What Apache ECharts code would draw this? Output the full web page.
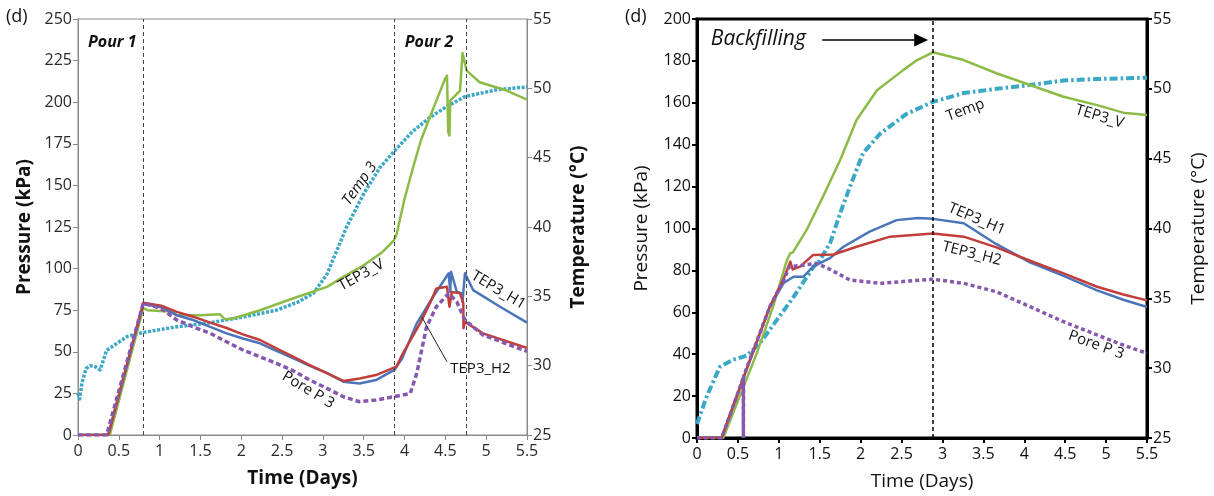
<!DOCTYPE html>
<html><head><meta charset="utf-8">
<script src="https://cdn.jsdelivr.net/npm/echarts@6/dist/echarts.min.js"></script>
<style>html,body{margin:0;padding:0;background:#fff}#c{width:1214px;height:496px}</style>
</head><body><div id="c"></div>
<script>
// ---------- DATA: left panel (d) Pour 1 / Pour 2 ----------
const xTicks = [0,0.5,1,1.5,2,2.5,3,3.5,4,4.5,5,5.5];
const leftPours = [0.8, 3.875, 4.75];
const leftTEP3V = [[0,0],[0.39,0],[0.8,76.2],[0.85,75],[1.17,74.1],[1.2,72],[1.5,72],[1.74,72.5],[1.8,69.5],[1.9,70],[2.23,75],[2.64,82.2],[3.05,89],[3.25,95],[3.5,102],[3.73,110],[3.87,117],[3.9,120],[4.0,142],[4.1,160],[4.2,177],[4.35,196],[4.5,214.5],[4.52,216],[4.535,182],[4.55,180],[4.56,201],[4.68,207],[4.71,229.6],[4.76,219],[4.92,212],[5.25,207],[5.5,201.5]];
const leftTEP3H1 = [[0,0],[0.37,0],[0.8,78.7],[1.02,76.7],[1.21,72],[1.41,69.1],[1.62,65],[1.82,61.1],[2.02,58],[2.23,55.1],[2.43,50.5],[2.64,46.1],[2.84,41.5],[3.05,37.2],[3.25,32],[3.45,31],[3.65,33],[3.875,39.1],[3.97,46],[4.15,67.1],[4.35,83.1],[4.54,97.2],[4.56,86.1],[4.57,98.1],[4.64,86.1],[4.70,85.1],[4.71,80.1],[4.74,97.2],[4.84,87.1],[5.17,77.1],[5.5,67.5]];
const leftTEP3H2 = [[0,0],[0.37,0],[0.8,79.5],[1.02,77.7],[1.21,74],[1.41,71.1],[1.62,67.5],[1.82,64.3],[2.02,60.5],[2.23,57.1],[2.43,52],[2.64,47],[2.84,42],[3.05,37.2],[3.25,32.5],[3.45,34],[3.65,36],[3.9,41.1],[3.98,49.1],[4.19,67.1],[4.31,79.1],[4.39,88.1],[4.52,89.1],[4.55,77.1],[4.58,86],[4.68,85.1],[4.72,79.1],[4.722,64.1],[4.74,68],[4.96,61.1],[5.5,52.3]];
const leftPoreP3 = [[0,0],[0.35,0],[0.8,79.3],[1.02,76],[1.21,69.1],[1.41,65],[1.62,61.1],[1.82,56],[2.02,51.1],[2.23,47],[2.43,43.1],[2.64,38.5],[2.84,33],[3.05,28],[3.25,23],[3.45,20],[3.65,21],[3.87,23],[4.07,25],[4.15,37.1],[4.27,65.1],[4.39,77.1],[4.54,85.1],[4.64,80.1],[4.74,69.1],[4.96,60.1],[5.5,50.3]];
const leftTemp3 = [[0,28.0],[0.02,27.6],[0.05,28.8],[0.1,29.8],[0.15,30.0],[0.22,29.9],[0.27,29.7],[0.3,30.2],[0.35,31.1],[0.6,32.1],[0.8,32.4],[1.21,32.8],[1.62,33.1],[2.02,33.5],[2.43,34.0],[2.7,34.6],[2.88,35.2],[3.05,36.6],[3.29,40.0],[3.5,42.4],[3.7,44.3],[3.88,45.5],[4.1,46.9],[4.31,47.9],[4.52,48.7],[4.74,49.4],[5.13,49.9],[5.5,50.1]];

// ---------- DATA: right panel (d) Backfilling ----------
const rightBackfill = 2.885;
const rightTEP3V = [[0,0],[0.32,0],[0.73,40.4],[0.93,62.7],[1.1,85],[1.14,88.2],[1.17,88.5],[1.34,99.3],[1.54,115.2],[1.75,132.7],[1.95,151.8],[2.2,166],[2.52,175.6],[2.69,180.4],[2.885,184.1],[3.26,180.4],[3.66,174.1],[4.07,168.5],[4.48,162.9],[4.89,158.9],[5.21,155.3],[5.5,154.2]];
const rightTemp = [[0,26.0],[0.12,28.0],[0.28,30.1],[0.44,30.6],[0.61,30.9],[0.77,31.8],[0.97,33.4],[1.18,35.1],[1.43,37.3],[1.5,37.7],[1.63,39.0],[1.75,41.1],[1.87,43.0],[2.03,45.4],[2.24,46.8],[2.56,48.2],[2.885,49.07],[3.26,49.7],[3.66,50.0],[4.07,50.27],[4.48,50.6],[4.89,50.7],[5.5,50.8]];
const rightTEP3H1 = [[0,0],[0.3,0],[0.57,29],[0.89,62.7],[1.06,74],[1.18,77],[1.3,77],[1.42,81.8],[1.54,84.2],[1.63,86],[1.79,91.3],[2.11,98.5],[2.44,104],[2.7,105],[2.885,104.6],[3.26,102.5],[3.66,92.5],[4.07,83.8],[4.48,77.4],[4.89,70.5],[5.21,66],[5.5,62.5]];
const rightTEP3H2 = [[0,0],[0.3,0],[0.57,29],[0.89,62.7],[1.06,76],[1.14,84.2],[1.17,80.5],[1.26,81.8],[1.42,87.4],[1.67,87.6],[1.95,91.3],[2.36,96.1],[2.885,97.6],[3.26,96.1],[3.66,91],[4.07,84.6],[4.48,78.6],[4.89,72.2],[5.21,68.5],[5.5,65.7]];
const rightPoreP3 = [[0,0],[0.3,0],[0.55,27],[0.565,29.3],[0.567,0],[0.57,29.5],[0.89,62.7],[1.06,75.4],[1.13,81.8],[1.3,82.5],[1.46,83.4],[1.6,81],[1.87,75.4],[2.24,73.8],[2.55,74.8],[2.885,75.8],[3.26,73.8],[3.66,69.8],[4.07,62.7],[4.48,55.5],[4.89,49.2],[5.2,44.5],[5.5,40.4]];

// ---------- styles ----------
const FONT = '"Open Sans", "Noto Sans", sans-serif';
const C = {green:'#8CBB47', cyan:'#3AA8C6', blue:'#4A75BA', red:'#C23E3A', purple:'#8759AE'};

const chart = echarts.init(document.getElementById('c'), null, {renderer:'canvas'});

function xAx(grid, gray){
  return {
    gridIndex: grid, type:'value', min:0, max:5.5, interval:0.5,
    axisLine:{show:true, onZero:false, lineStyle:{color: gray ? '#8a8a8a' : '#000', width: gray ? 1 : 3}},
    axisTick:{show:true, length:5, lineStyle:{color: gray ? '#8a8a8a' : '#000', width: gray ? 1 : 2}},
    axisLabel:{fontFamily:FONT, fontSize:16, color: gray ? '#2a2a2a' : '#111', margin:8},
    splitLine:{show:false},
    name:'Time (Days)', nameLocation:'middle', nameGap:34,
    nameTextStyle:{fontFamily:FONT, fontSize:19, fontWeight: gray ? 'bold' : 'normal', color:'#111'}
  };
}
function yAx(grid, gray, min, max, interval, name, pos, gap){
  return {
    gridIndex: grid, type:'value', min, max, interval, position:pos,
    axisLine:{show:true, onZero:false, lineStyle:{color: gray ? '#8a8a8a' : '#000', width: gray ? 1 : 3}},
    axisTick:{show:true, length:5, lineStyle:{color: gray ? '#8a8a8a' : '#000', width: gray ? 1 : 2}},
    axisLabel:{fontFamily:FONT, fontSize:16, color: gray ? '#2a2a2a' : '#111', margin:6},
    splitLine:{show:false},
    name, nameLocation:'middle', nameGap:gap, nameRotate:90,
    nameTextStyle:{fontFamily:FONT, fontSize:19, fontWeight: gray ? 'bold' : 'normal', color:'#111'}
  };
}
function line(name, data, xi, yi, color, type, width, z){
  return {name, type:'line', data, xAxisIndex:xi, yAxisIndex:yi, showSymbol:false, symbol:'none',
    lineStyle:{color, width, type, cap:'butt', join:'round'}, z: z||2, animation:false};
}

const series = [
  line('Temp 3', leftTemp3, 0, 1, C.cyan, [3,1.6], 3.5, 2),
  line('TEP3_V', leftTEP3V, 0, 0, C.green, 'solid', 2.5, 3),
  line('TEP3_H1', leftTEP3H1, 0, 0, C.blue, 'solid', 2.5, 3),
  line('TEP3_H2', leftTEP3H2, 0, 0, C.red, 'solid', 2.5, 4),
  line('Pore P 3', leftPoreP3, 0, 0, C.purple, [5,3], 3.5, 5),
  line('Temp', rightTemp, 1, 3, C.cyan, [8,3,2.5,3], 4, 2),
  line('TEP3_V', rightTEP3V, 1, 2, C.green, 'solid', 2.5, 3),
  line('TEP3_H1', rightTEP3H1, 1, 2, C.blue, 'solid', 2.5, 3),
  line('TEP3_H2', rightTEP3H2, 1, 2, C.red, 'solid', 2.5, 4),
  line('Pore P 3', rightPoreP3, 1, 2, C.purple, [4,3], 3.5, 5)
];
// dashed event lines
series[1].markLine = {silent:true, symbol:['none','none'], animation:false, label:{show:false},
  lineStyle:{color:'#444', type:[4,3], width:1}, data: leftPours.map(v => ({xAxis:v}))};
series[6].markLine = {silent:true, symbol:['none','none'], animation:false, label:{show:false},
  lineStyle:{color:'#000', type:[4,3], width:1.5},
  data:[{xAxis:rightBackfill}]};
series[7].markLine = {silent:true, symbol:['none','triangle'], symbolSize:[13,14], animation:false, label:{show:false},
  lineStyle:{color:'#000', type:'solid', width:1.6},
  data:[[{coord:[1.53,190]}, {coord:[2.74,190]}]]};

chart.setOption({
  animation:false,
  grid:[
    {left:78, top:19, width:449, height:416, show:true, borderColor:'#8a8a8a', borderWidth:1, outerBoundsMode:'none'},
    {left:697, top:19, width:450, height:419, show:true, borderColor:'#000', borderWidth:3, outerBoundsMode:'none'}
  ],
  xAxis:[xAx(0,true), xAx(1,false)],
  yAxis:[
    yAx(0,true,0,250,25,'Pressure (kPa)','left',44),
    yAx(0,true,25,55,5,'Temperature (°C)','right',42),
    yAx(1,false,0,200,20,'Pressure (kPa)','left',46),
    yAx(1,false,25,55,5,'Temperature (°C)','right',42)
  ],
  series
});

// ---------- annotations ----------
const annLeft = [
  {t:'Pour 1', p:[0.42,236], r:0, f:'italic bold 16px '+FONT},
  {t:'Pour 2', p:[4.3,236], r:0, f:'italic bold 16px '+FONT},
  {t:'Temp 3', p:[3.45,151], r:55, f:'italic 15px '+FONT},
  {t:'TEP3_V', p:[3.47,96], r:29, f:'15px '+FONT},
  {t:'TEP3_H1', p:[5.15,87], r:-31, f:'15px '+FONT},
  {t:'TEP3_H2', p:[4.93,40], r:0, f:'15px '+FONT},
  {t:'Pore P 3', p:[2.82,27], r:-31, f:'15px '+FONT}
];
const annRight = [
  {t:'Backfilling', p:[0.75,190.5], r:0, f:'italic 21px '+FONT},
  {t:'Temp', p:[3.28,156.5], r:20, f:'15px '+FONT},
  {t:'TEP3_V', p:[4.92,153.4], r:-17, f:'15px '+FONT},
  {t:'TEP3_H1', p:[3.42,104.5], r:-23, f:'15px '+FONT},
  {t:'TEP3_H2', p:[3.36,88], r:-14, f:'15px '+FONT},
  {t:'Pore P 3', p:[4.88,44.4], r:-20, f:'15px '+FONT}
];
const g = [];
function addAnn(list, xi, yi){
  list.forEach(a => {
    const px = chart.convertToPixel({xAxisIndex:xi, yAxisIndex:yi}, a.p);
    g.push({type:'text', x:px[0], y:px[1], rotation:a.r*Math.PI/180, z:20,
      style:{text:a.t, font:a.f, fill:'#111', align:'center', verticalAlign:'middle'}});
  });
}
addAnn(annLeft, 0, 0);
addAnn(annRight, 1, 2);
const l1 = chart.convertToPixel({xAxisIndex:0, yAxisIndex:0}, [4.21,71]);
const l2 = chart.convertToPixel({xAxisIndex:0, yAxisIndex:0}, [4.52,44]);
g.push({type:'line', z:20, shape:{x1:l1[0], y1:l1[1], x2:l2[0], y2:l2[1]}, style:{stroke:'#222', lineWidth:1}});
g.push({type:'text', x:6, y:8, z:20, style:{text:'(d)', font:'18px '+FONT, fill:'#111'}});
g.push({type:'text', x:625, y:8, z:20, style:{text:'(d)', font:'18px '+FONT, fill:'#111'}});
chart.setOption({graphic:g});
</script></body></html>
